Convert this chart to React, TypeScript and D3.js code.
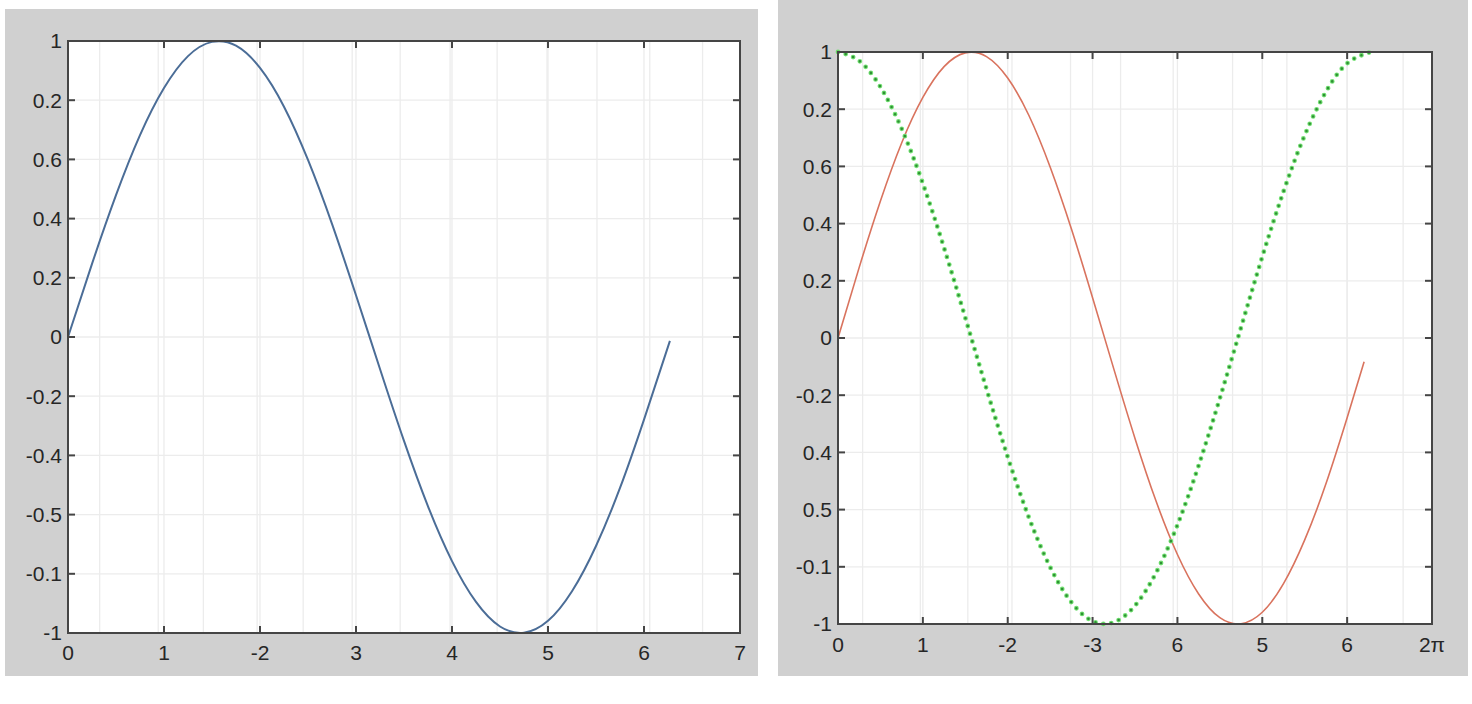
import React from "react";
import * as d3 from "d3";

// ---- data ----
const xTickValues = [0, 1, 2, 3, 4, 5, 6, 7];
const leftXTickLabels = ["0", "1", "-2", "3", "4", "5", "6", "7"];
const rightXTickLabels = ["0", "1", "-2", "-3", "6", "5", "6", "2π"];

const yTickValues = [1, 0.8, 0.6, 0.4, 0.2, 0, -0.2, -0.4, -0.6, -0.8, -1];
const leftYTickLabels = ["1", "0.2", "0.6", "0.4", "0.2", "0", "-0.2", "-0.4", "-0.5", "-0.1", "-1"];
const rightYTickLabels = ["1", "0.2", "0.6", "0.4", "0.2", "0", "-0.2", "0.4", "0.5", "-0.1", "-1"];

const leftGridX = [0.33, 0.94, 1.41, 1.97, 2.45, 2.96, 3.46, 3.98, 4.47, 4.99, 5.51, 6.06, 6.61];
const rightGridX = [0.29, 0.97, 1.53, 2.05, 2.74, 3.33, 3.95, 4.65, 5.29, 6.0, 6.66];

// left blue curve
const leftCurveX = [0, 0.25, 0.5, 0.75, 1, 1.25, 1.5, 1.75, 2, 2.25, 2.5, 2.75, 3, 3.25, 3.5, 3.75, 4, 4.25, 4.5, 4.75, 5, 5.25, 5.5, 5.75, 6, 6.27];
const leftCurveY = [0, 0.247, 0.479, 0.682, 0.841, 0.949, 0.997, 0.984, 0.909, 0.778, 0.598, 0.382, 0.141, -0.108, -0.351, -0.572, -0.757, -0.895, -0.978, -0.999, -0.959, -0.859, -0.706, -0.51, -0.279, -0.013];

// right red curve
const redCurveX = [0, 0.25, 0.5, 0.75, 1, 1.25, 1.5, 1.75, 2, 2.25, 2.5, 2.75, 3, 3.25, 3.5, 3.75, 4, 4.25, 4.5, 4.75, 5, 5.25, 5.5, 5.75, 6, 6.2];
const redCurveY = [0, 0.247, 0.479, 0.682, 0.841, 0.949, 0.997, 0.984, 0.909, 0.778, 0.598, 0.382, 0.141, -0.108, -0.351, -0.572, -0.757, -0.895, -0.978, -0.999, -0.959, -0.859, -0.706, -0.51, -0.279, -0.083];

// right green dotted curve
const greenCurveX = [0, 0.25, 0.5, 0.75, 1, 1.25, 1.5, 1.75, 2, 2.25, 2.5, 2.75, 3, 3.25, 3.5, 3.75, 4, 4.25, 4.5, 4.75, 5, 5.25, 5.5, 5.75, 6, 6.28];
const greenCurveY = [1, 0.969, 0.878, 0.732, 0.54, 0.315, 0.071, -0.178, -0.416, -0.628, -0.801, -0.924, -0.99, -0.994, -0.936, -0.82, -0.654, -0.446, -0.211, 0.037, 0.284, 0.512, 0.709, 0.861, 0.96, 1.0];

const FONT = "'Liberation Sans', Arial, Helvetica, sans-serif";

type PanelProps = {
  bg: [number, number, number, number];
  plot: [number, number, number, number]; // left, top, right, bottom
  xLabels: string[];
  yLabels: string[];
  gridX: number[];
  labelGapY: number;
  labelGapX: number;
  children: (x: d3.ScaleLinear<number, number>, y: d3.ScaleLinear<number, number>) => React.ReactNode;
};

function Panel({ bg, plot, xLabels, yLabels, gridX, labelGapY, labelGapX, children }: PanelProps) {
  const [l, t, r, b] = plot;
  const x = d3.scaleLinear().domain([0, 7]).range([l, r]);
  const y = d3.scaleLinear().domain([-1, 1]).range([b, t]);
  const tickLen = 7;
  const gridColor = "#ececec";
  const axisColor = "#454545";
  return (
    <g>
      <rect x={bg[0]} y={bg[1]} width={bg[2] - bg[0]} height={bg[3] - bg[1]} fill="#d0d0d0" />
      <rect x={l} y={t} width={r - l} height={b - t} fill="#ffffff" />
      {gridX.map((v, i) => (
        <line key={"gx" + i} x1={x(v)} x2={x(v)} y1={t} y2={b} stroke={gridColor} strokeWidth={1.3} />
      ))}
      {xTickValues.map((v, i) => (
        <line key={"gt" + i} x1={x(v)} x2={x(v)} y1={t} y2={b} stroke={gridColor} strokeWidth={1.3} />
      ))}
      {yTickValues.map((v, i) => (
        <line key={"gy" + i} x1={l} x2={r} y1={y(v)} y2={y(v)} stroke={gridColor} strokeWidth={1.3} />
      ))}
      {children(x, y)}
      <rect x={l} y={t} width={r - l} height={b - t} fill="none" stroke={axisColor} strokeWidth={2} />
      {xTickValues.map((v, i) => (
        <g key={"xt" + i}>
          <line x1={x(v)} x2={x(v)} y1={b} y2={b - tickLen} stroke={axisColor} strokeWidth={2} />
          <line x1={x(v)} x2={x(v)} y1={t} y2={t + tickLen} stroke={axisColor} strokeWidth={2} />
          <text x={x(v)} y={b + labelGapX} textAnchor="middle" fontFamily={FONT} fontSize={21} fill="#262626">
            {xLabels[i]}
          </text>
        </g>
      ))}
      {yTickValues.map((v, i) => (
        <g key={"yt" + i}>
          <line x1={l} x2={l + tickLen} y1={y(v)} y2={y(v)} stroke={axisColor} strokeWidth={2} />
          <line x1={r} x2={r - tickLen} y1={y(v)} y2={y(v)} stroke={axisColor} strokeWidth={2} />
          <text x={l - labelGapY} y={y(v)} dy="0.35em" textAnchor="end" fontFamily={FONT} fontSize={21} fill="#262626">
            {yLabels[i]}
          </text>
        </g>
      ))}
    </g>
  );
}

function pathFor(xs: number[], ys: number[], x: d3.ScaleLinear<number, number>, y: d3.ScaleLinear<number, number>) {
  const pts: [number, number][] = xs.map((v, i) => [v, ys[i]]);
  return d3
    .line<[number, number]>()
    .x((d) => x(d[0]))
    .y((d) => y(d[1]))
    .curve(d3.curveNatural)(pts) || "";
}

export default function App() {
  return (
    <svg
      width={1472}
      height={704}
      style={{ position: "absolute", left: 0, top: 0, background: "#ffffff" }}
    >
      <rect x={0} y={0} width={1472} height={704} fill="#ffffff" />
      <Panel
        bg={[5, 9, 758, 676]}
        plot={[68, 41, 740, 633]}
        xLabels={leftXTickLabels}
        yLabels={leftYTickLabels}
        gridX={leftGridX}
        labelGapY={6}
        labelGapX={27}
      >
        {(x, y) => (
          <path d={pathFor(leftCurveX, leftCurveY, x, y)} fill="none" stroke="#4b6d97" strokeWidth={2} />
        )}
      </Panel>
      <Panel
        bg={[778, 0, 1468, 676]}
        plot={[838, 52, 1432, 624]}
        xLabels={rightXTickLabels}
        yLabels={rightYTickLabels}
        gridX={rightGridX}
        labelGapY={6}
        labelGapX={28}
      >
        {(x, y) => (
          <g>
            <path d={pathFor(redCurveX, redCurveY, x, y)} fill="none" stroke="#d9735e" strokeWidth={1.6} />
            <path
              d={pathFor(greenCurveX, greenCurveY, x, y)}
              fill="none"
              stroke="#72e072"
              strokeWidth={4.8}
              strokeLinecap="round"
              strokeDasharray="0 8"
            />
            <path
              d={pathFor(greenCurveX, greenCurveY, x, y)}
              fill="none"
              stroke="#2f8f34"
              strokeWidth={2.6}
              strokeLinecap="round"
              strokeDasharray="0 8"
            />
          </g>
        )}
      </Panel>
    </svg>
  );
}
